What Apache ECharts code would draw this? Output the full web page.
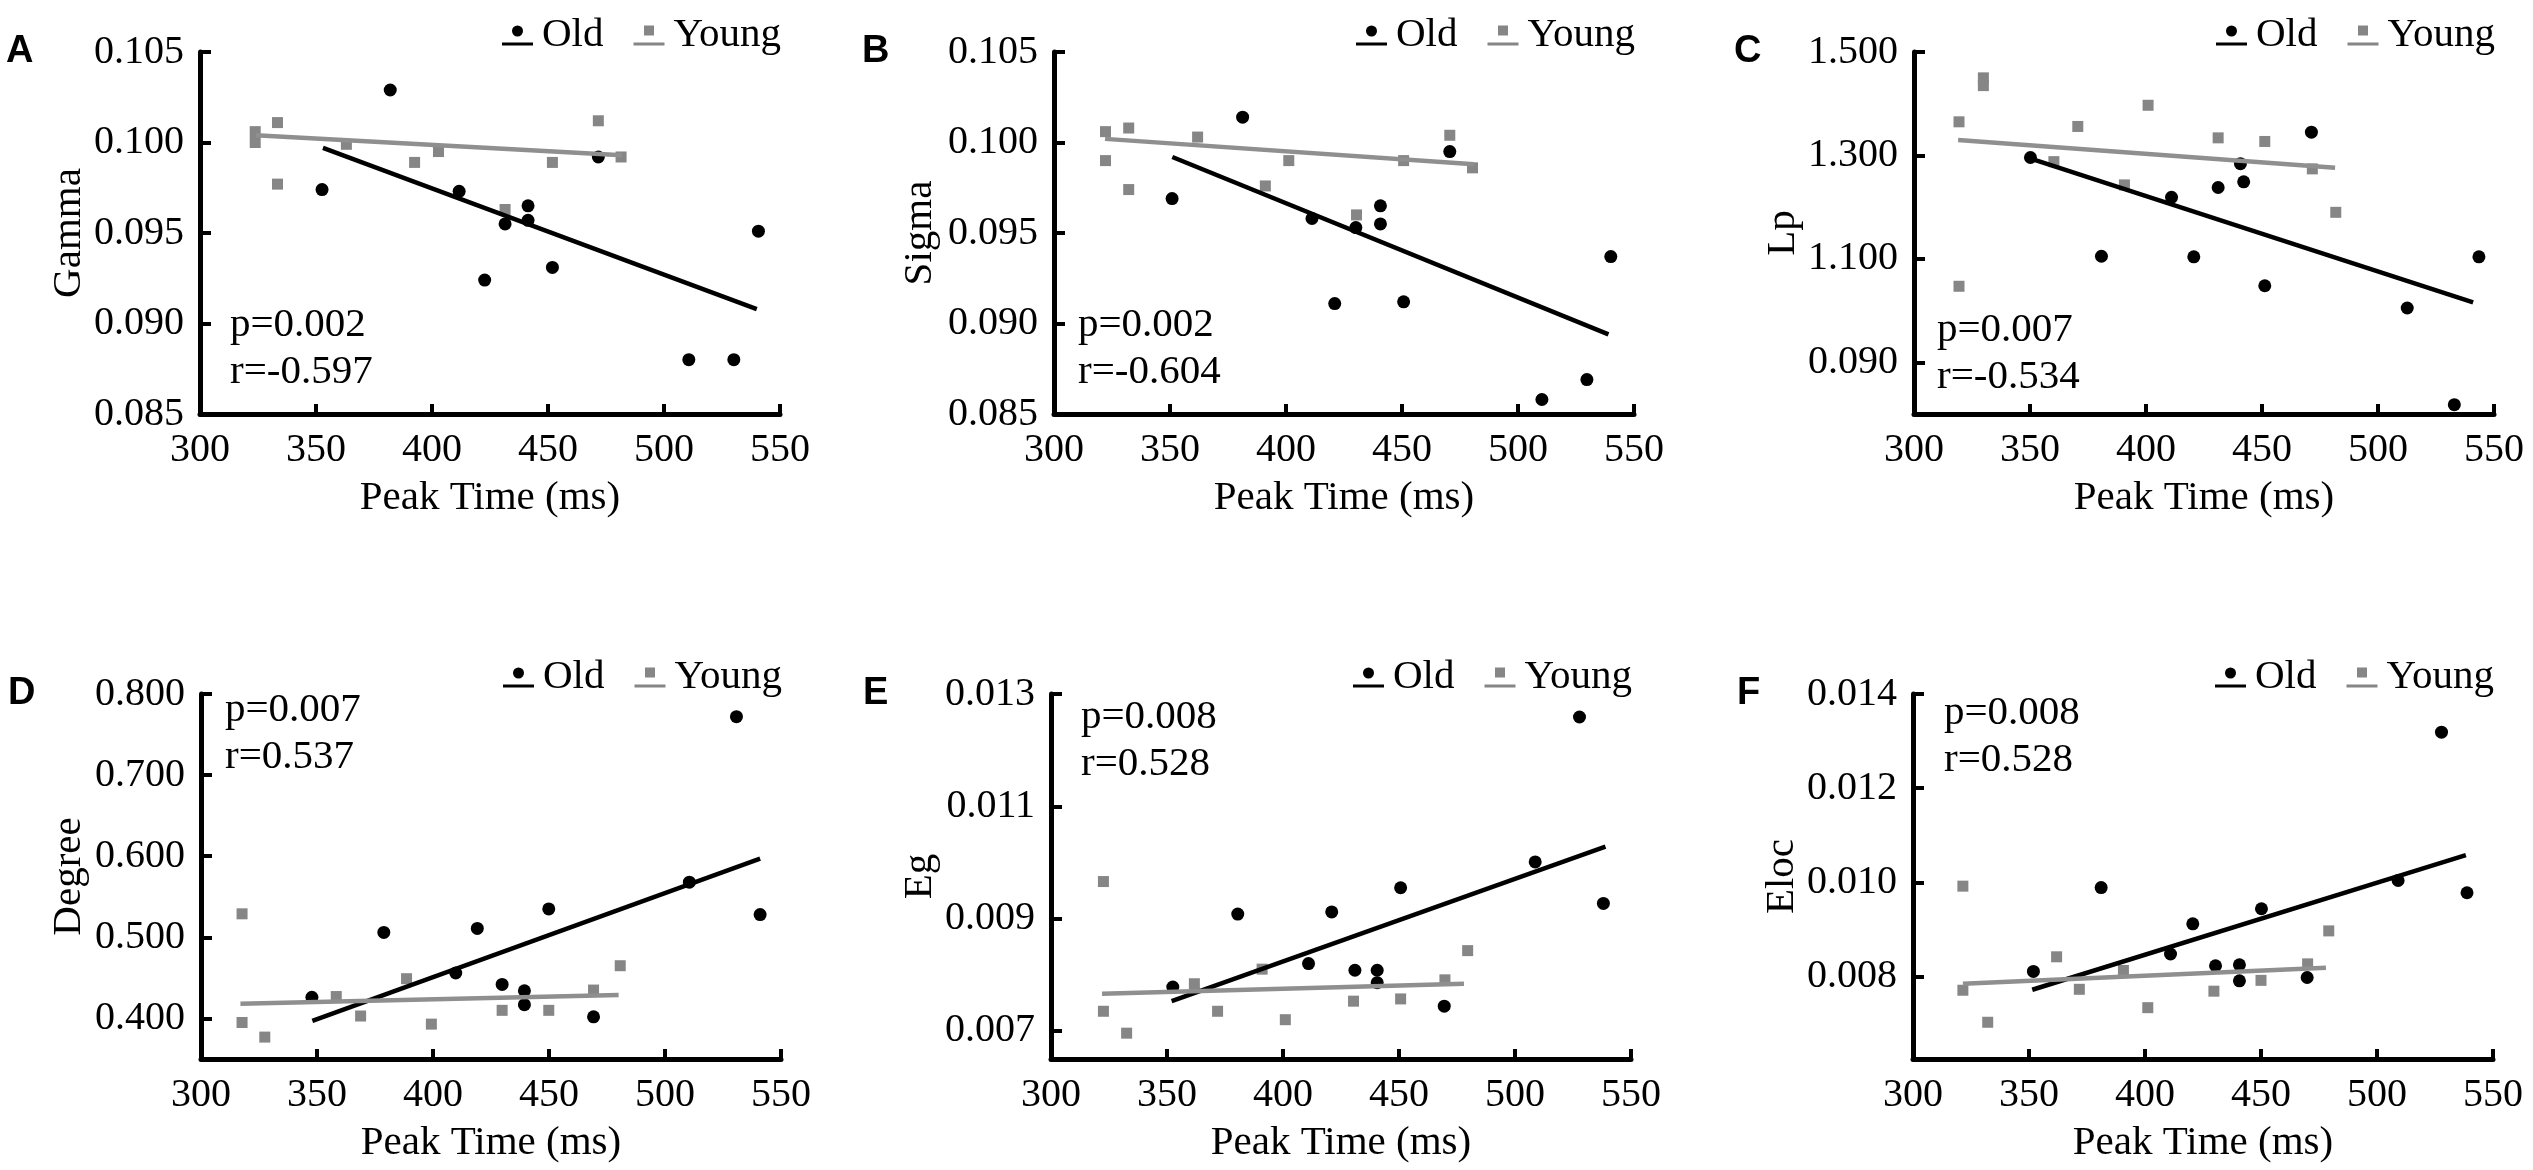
<!DOCTYPE html>
<html>
<head>
<meta charset="utf-8">
<title>Peak time correlations</title>
<script src="https://cdn.jsdelivr.net/npm/echarts@6/dist/echarts.min.js"></script>
<style>
  html, body { margin: 0; padding: 0; background: #fff; }
  #main { width: 2533px; height: 1170px; }
</style>
</head>
<body>
<div id="main"></div>
<script>
// x axis (Peak Time, ms)
var xTicks = [300, 350, 400, 450, 500, 550];

// A - Gamma
var oldA = [[352.6, 0.0974], [382, 0.1029], [411.7, 0.0973], [422.7, 0.0924], [431.5, 0.0955], [441.4, 0.0965],
  [441.4, 0.0957], [451.9, 0.0931], [471.7, 0.0992], [510.7, 0.0880], [530.1, 0.0880], [540.7, 0.0951]];
var youngA = [[323.8, 0.1006], [323.8, 0.1000], [333.4, 0.1011], [333.4, 0.0977], [363.1, 0.0999], [372.9, 0.1065],
  [392.5, 0.0989], [402.8, 0.0995], [431.5, 0.0963], [451.9, 0.0989], [471.7, 0.1012], [481.5, 0.0992]];
var oldFitA = [[353, 0.0997], [540, 0.0908]];
var youngFitA = [[324, 0.1004], [482, 0.0993]];
var yTicksA = [0.085, 0.090, 0.095, 0.100, 0.105];
var yLabelsA = ['0.085', '0.090', '0.095', '0.100', '0.105'];

// B - Sigma
var oldB = [[350.9, 0.0969], [381.3, 0.1014], [411.2, 0.0958], [421, 0.0911], [430.1, 0.0953], [440.7, 0.0965],
  [440.7, 0.0955], [450.7, 0.0912], [470.6, 0.0995], [510.3, 0.0858], [529.7, 0.0869], [540, 0.0937]];
var youngB = [[322.2, 0.1006], [322.2, 0.0990], [332.2, 0.1008], [332.2, 0.0974], [361.9, 0.1003], [372.4, 0.1056],
  [391.1, 0.0976], [401.2, 0.0990], [430.4, 0.0960], [450.7, 0.0990], [470.6, 0.1004], [480.4, 0.0986]];
var oldFitB = [[351, 0.0992], [539, 0.0894]];
var youngFitB = [[322, 0.1002], [481, 0.0988]];
var yTicksB = [0.085, 0.090, 0.095, 0.100, 0.105];
var yLabelsB = ['0.085', '0.090', '0.095', '0.100', '0.105'];

// C - Lp
var oldC = [[350.2, 1.296], [380.8, 1.105], [411, 1.219], [420.6, 1.104], [431.1, 1.238], [440.7, 1.284],
  [442.1, 1.249], [451.2, 1.048], [471.3, 1.345], [512.6, 1.005], [532.9, 0.818], [543.5, 1.104]];
var youngC = [[319.4, 1.365], [319.4, 1.047], [329.9, 1.450], [329.9, 1.435], [360.3, 1.288], [370.6, 1.356],
  [390.7, 1.243], [400.9, 1.397], [431.1, 1.334], [451.2, 1.327], [471.7, 1.274], [481.8, 1.190]];
var oldFitC = [[351, 1.293], [541, 1.016]];
var youngFitC = [[319, 1.330], [481.5, 1.276]];
var yTicksC = [0.9, 1.1, 1.3, 1.5];
var yLabelsC = ['0.090', '1.100', '1.300', '1.500'];

// D - Degree
var oldD = [[347.8, 0.426], [378.8, 0.506], [409.8, 0.456], [419.1, 0.511], [429.8, 0.442], [439.4, 0.434],
  [439.4, 0.417], [449.9, 0.535], [469.2, 0.402], [510.5, 0.568], [530.8, 0.772], [541, 0.528]];
var youngD = [[317.7, 0.529], [317.7, 0.395], [327.5, 0.377], [358.3, 0.427], [368.8, 0.403], [388.6, 0.449],
  [399.3, 0.393], [429.8, 0.410], [449.9, 0.410], [469.2, 0.435], [480.7, 0.465]];
var oldFitD = [[348, 0.397], [541, 0.597]];
var youngFitD = [[317, 0.418], [480, 0.429]];
var yTicksD = [0.4, 0.5, 0.6, 0.7, 0.8];
var yLabelsD = ['0.400', '0.500', '0.600', '0.700', '0.800'];

// E - Eg
var oldE = [[352.5, 0.00778], [380.5, 0.00908], [411, 0.00820], [421, 0.00912], [431, 0.00808], [440.6, 0.00808],
  [440.6, 0.00786], [450.7, 0.00955], [469.5, 0.00744], [508.7, 0.01001], [527.8, 0.01259], [538.1, 0.00927]];
var youngE = [[322.6, 0.00966], [322.6, 0.00735], [332.6, 0.00696], [361.8, 0.00784], [371.8, 0.00735], [391, 0.00810],
  [401, 0.00720], [430.4, 0.00753], [450.7, 0.00757], [469.8, 0.00791], [479.6, 0.00843]];
var oldFitE = [[352, 0.00753], [539, 0.01028]];
var youngFitE = [[322, 0.00766], [478, 0.00784]];
var yTicksE = [0.007, 0.009, 0.011, 0.013];
var yLabelsE = ['0.007', '0.009', '0.011', '0.013'];

// F - Eloc
var oldF = [[351.9, 0.00811], [381.1, 0.00989], [411, 0.00848], [420.6, 0.00912], [430.4, 0.00823], [440.7, 0.00825],
  [440.7, 0.00791], [450.2, 0.00944], [469.9, 0.00798], [509.1, 0.01004], [527.8, 0.01319], [538.8, 0.00978]];
var youngF = [[321.5, 0.00992], [321.5, 0.00771], [332.2, 0.00703], [361.9, 0.00842], [371.7, 0.00773], [390.7, 0.00813],
  [401.2, 0.00734], [429.7, 0.00769], [450, 0.00792], [470.1, 0.00827], [479.2, 0.00897]];
var oldFitF = [[351.4, 0.00772], [538.3, 0.01058]];
var youngFitF = [[321.5, 0.00785], [478, 0.00819]];
var yTicksF = [0.008, 0.010, 0.012, 0.014];
var yLabelsF = ['0.008', '0.010', '0.012', '0.014'];

var serif = 'Liberation Serif';
var oldIcon = 'path://M0,17L31,17L31,20L0,20Z M10,5.5A5.5,5.5,0,1,0,21,5.5A5.5,5.5,0,1,0,10,5.5Z';
var youngIcon = 'path://M0,17L31,17L31,20L0,20Z M10.5,0L20.5,0L20.5,10L10.5,10Z';

// layout of the six panels (pixels)
var panels = [
  { letter: 'A', letterX: 6, name: 'Gamma', left: 200, top: 52, height: 362, min: 0.085, max: 0.105, gap: 110,
    old: oldA, young: youngA, oldFit: oldFitA, youngFit: youngFitA, ticks: yTicksA, labels: yLabelsA,
    p: 'p=0.002', r: 'r=-0.597', statX: 230, statY: 325 },
  { letter: 'B', letterX: 862, name: 'Sigma', left: 1054, top: 52, height: 362, min: 0.085, max: 0.105, gap: 113,
    old: oldB, young: youngB, oldFit: oldFitB, youngFit: youngFitB, ticks: yTicksB, labels: yLabelsB,
    p: 'p=0.002', r: 'r=-0.604', statX: 1078, statY: 325 },
  { letter: 'C', letterX: 1734, name: 'Lp', left: 1914, top: 52, height: 362, min: 0.8, max: 1.5, gap: 99,
    old: oldC, young: youngC, oldFit: oldFitC, youngFit: youngFitC, ticks: yTicksC, labels: yLabelsC,
    p: 'p=0.007', r: 'r=-0.534', statX: 1937, statY: 330 },
  { letter: 'D', letterX: 8, name: 'Degree', left: 201, top: 694, height: 365, min: 0.35, max: 0.8, gap: 111,
    old: oldD, young: youngD, oldFit: oldFitD, youngFit: youngFitD, ticks: yTicksD, labels: yLabelsD,
    p: 'p=0.007', r: 'r=0.537', statX: 225, statY: 710 },
  { letter: 'E', letterX: 863, name: 'Eg', left: 1051, top: 694, height: 365, min: 0.0065, max: 0.013, gap: 110,
    old: oldE, young: youngE, oldFit: oldFitE, youngFit: youngFitE, ticks: yTicksE, labels: yLabelsE,
    p: 'p=0.008', r: 'r=0.528', statX: 1081, statY: 717 },
  { letter: 'F', letterX: 1737, name: 'Eloc', left: 1913, top: 694, height: 365, min: 0.00625, max: 0.014, gap: 102,
    old: oldF, young: youngF, oldFit: oldFitF, youngFit: youngFitF, ticks: yTicksF, labels: yLabelsF,
    p: 'p=0.008', r: 'r=0.528', statX: 1944, statY: 713 }
];

var grids = [], xAxes = [], yAxes = [], series = [], legends = [], graphics = [];

panels.forEach(function (pn, i) {
  grids.push({ left: pn.left, top: pn.top, width: 580, height: pn.height, outerBoundsMode: 'none' });

  xAxes.push({
    type: 'value', gridIndex: i, min: 300, max: 550, interval: 50,
    name: 'Peak Time (ms)', nameLocation: 'middle', nameGap: 64,
    nameTextStyle: { fontFamily: serif, fontSize: 41, color: '#000' },
    axisLine: { lineStyle: { color: '#000', width: 5 } },
    axisTick: { inside: true, length: 10, lineStyle: { color: '#000', width: 4 } },
    axisLabel: { margin: 16, fontFamily: serif, fontSize: 40, color: '#000',
      customValues: xTicks },
    splitLine: { show: false }
  });

  yAxes.push({
    type: 'value', gridIndex: i, min: pn.min, max: pn.max,
    name: pn.name, nameLocation: 'middle', nameGap: pn.gap,
    nameTextStyle: { fontFamily: serif, fontSize: 41, color: '#000' },
    axisLine: { show: true, lineStyle: { color: '#000', width: 5 } },
    axisTick: { show: true, inside: true, length: 11, lineStyle: { color: '#000', width: 4 },
      customValues: pn.ticks },
    axisLabel: {
      margin: 16, fontFamily: serif, fontSize: 40, color: '#000',
      customValues: pn.ticks,
      formatter: function (v) {
        for (var k = 0; k < pn.ticks.length; k++) {
          if (Math.abs(pn.ticks[k] - v) < 1e-9) return pn.labels[k];
        }
        return '';
      }
    },
    splitLine: { show: false }
  });

  series.push(
    { name: 'Old', type: 'scatter', xAxisIndex: i, yAxisIndex: i, data: pn.old,
      symbol: 'circle', symbolSize: 13, itemStyle: { color: '#000', opacity: 1 }, z: 3 },
    { name: 'Young', type: 'scatter', xAxisIndex: i, yAxisIndex: i, data: pn.young,
      symbol: 'rect', symbolSize: 11, itemStyle: { color: '#868686', opacity: 1 }, z: 3 },
    { name: 'Old', type: 'line', xAxisIndex: i, yAxisIndex: i, data: pn.oldFit,
      showSymbol: false, lineStyle: { color: '#000', width: 4.5 }, itemStyle: { color: '#000' }, z: 4 },
    { name: 'Young', type: 'line', xAxisIndex: i, yAxisIndex: i, data: pn.youngFit,
      showSymbol: false, lineStyle: { color: '#8f8f8f', width: 4.5 }, itemStyle: { color: '#868686' }, z: 4 }
  );

  legends.push({
    left: pn.left + 297, top: pn.top - 42, itemWidth: 31, itemHeight: 20, itemGap: 30,
    selectedMode: false,
    textStyle: { fontFamily: serif, fontSize: 41, color: '#000', padding: [0, 0, 0, 4] },
    data: [{ name: 'Old', icon: oldIcon }, { name: 'Young', icon: youngIcon }]
  });

  graphics.push(
    { type: 'text', left: pn.letterX, top: pn.top - 19,
      style: { text: pn.letter, fontFamily: 'Liberation Sans', fontWeight: 'bold',
        fontSize: 38, fill: '#000' } },
    { type: 'text', x: pn.statX, y: pn.statY,
      style: { text: pn.p, fontFamily: serif, fontSize: 41, fill: '#000', verticalAlign: 'middle' } },
    { type: 'text', x: pn.statX, y: pn.statY + 47,
      style: { text: pn.r, fontFamily: serif, fontSize: 41, fill: '#000', verticalAlign: 'middle' } }
  );
});

var myChart = echarts.init(document.getElementById('main'));
myChart.setOption({
  backgroundColor: '#fff',
  animation: false,
  grid: grids,
  xAxis: xAxes,
  yAxis: yAxes,
  legend: legends,
  graphic: graphics,
  series: series
});
</script>
</body>
</html>
